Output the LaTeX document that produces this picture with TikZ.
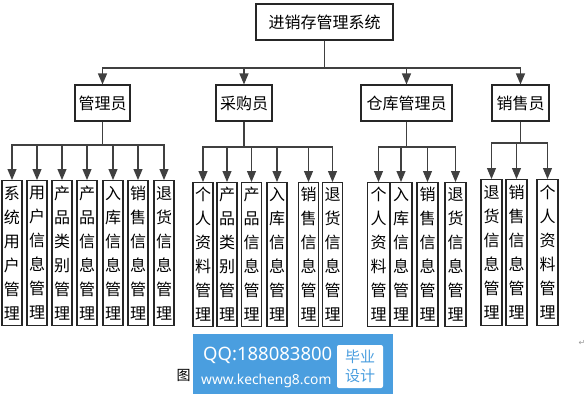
\documentclass[tikz,border=0pt]{standalone}
\usepackage{fontspec}
\newfontfamily\cjk{Noto Sans CJK SC}
\newfontfamily\wmfont{Noto Sans}
\newfontfamily\symfont{DejaVu Sans}
\usetikzlibrary{arrows.meta}
\definecolor{linec}{HTML}{404040}
\definecolor{wmblue}{HTML}{4A9EDF}
\tikzset{
  box/.style={draw=black!85, line width=1.1pt, fill=white, inner sep=0pt, font=\cjk\fontsize{16}{18}\selectfont},
  leaf/.style={draw=black!85, line width=1.1pt, fill=white, inner sep=0pt, minimum width=20pt, anchor=north,
    align=center, font=\cjk\fontsize{16}{24}\selectfont},
  conn/.style={draw=linec, line width=1.2pt, -{Triangle[width=9pt,length=11pt]}},
}
\begin{document}
\begin{tikzpicture}[x=1pt,y=-1pt]
\useasboundingbox (0,0) rectangle (587,400);
% top
\node[box, minimum width=137pt, minimum height=36pt] (top) at (324.5,22) {进销存管理系统};
% level 2
\node[box, minimum width=55pt, minimum height=36pt] (a1) at (102.5,103) {管理员};
\node[box, minimum width=56pt, minimum height=36pt] (a2) at (244,103) {采购员};
\node[box, minimum width=91pt, minimum height=36pt] (a3) at (406.5,103) {仓库管理员};
\node[box, minimum width=57pt, minimum height=36pt] (a4) at (520.5,103) {销售员};
% buses
\coordinate (b0) at (0,68);
\coordinate (b1) at (0,145);
\coordinate (b2) at (0,147);
\coordinate (b3) at (0,147);
\coordinate (b4) at (0,143);
% leaves group 1
\node[leaf, minimum height=145pt] (c11) at (12,180) {系\\统\\用\\户\\管\\理};
\node[leaf, minimum height=145pt] (c12) at (37,180) {用\\户\\信\\息\\管\\理};
\node[leaf, minimum height=145pt] (c13) at (62,180) {产\\品\\类\\别\\管\\理};
\node[leaf, minimum height=145pt] (c14) at (87,180) {产\\品\\信\\息\\管\\理};
\node[leaf, minimum height=145pt] (c15) at (113,180) {入\\库\\信\\息\\管\\理};
\node[leaf, minimum height=145pt] (c16) at (138,180) {销\\售\\信\\息\\管\\理};
\node[leaf, minimum height=145pt] (c17) at (164,180) {退\\货\\信\\息\\管\\理};
% group 2
\node[leaf, minimum height=144pt] (c21) at (203,182) {个\\人\\资\\料\\管\\理};
\node[leaf, minimum height=144pt] (c22) at (227,182) {产\\品\\类\\别\\管\\理};
\node[leaf, minimum height=144pt] (c23) at (251.5,182) {产\\品\\信\\息\\管\\理};
\node[leaf, minimum height=144pt] (c24) at (277,182) {入\\库\\信\\息\\管\\理};
\node[leaf, minimum height=144pt] (c25) at (308.5,182) {销\\售\\信\\息\\管\\理};
\node[leaf, minimum height=144pt] (c26) at (332.5,182) {退\\货\\信\\息\\管\\理};
% group 3
\node[leaf, minimum height=144pt, minimum width=22pt] (c31) at (378.5,182) {个\\人\\资\\料\\管\\理};
\node[leaf, minimum height=144pt, minimum width=22pt] (c32) at (401,182) {入\\库\\信\\息\\管\\理};
\node[leaf, minimum height=144pt, minimum width=21pt] (c33) at (427.5,182) {销\\售\\信\\息\\管\\理};
\node[leaf, minimum height=144pt, minimum width=21pt] (c34) at (455.5,182) {退\\货\\信\\息\\管\\理};
% group 4
\node[leaf, minimum height=146pt, minimum width=21pt] (c41) at (491.5,179) {退\\货\\信\\息\\管\\理};
\node[leaf, minimum height=146pt, minimum width=21pt] (c42) at (516.5,179) {销\\售\\信\\息\\管\\理};
\node[leaf, minimum height=146pt, minimum width=21pt] (c43) at (547.5,179) {个\\人\\资\\料\\管\\理};
% connectors top -> level 2
\foreach \t in {a1,a2,a3,a4}
  \draw[conn] (top.south) -- (top.south |- b0) -| (\t.north);
\foreach \t in {c11,c12,c13,c14,c15,c16,c17}
  \draw[conn] (a1.south) -- (a1.south |- b1) -| (\t.north);
\foreach \t in {c21,c22,c23,c24,c25,c26}
  \draw[conn] (a2.south) -- (a2.south |- b2) -| (\t.north);
\foreach \t in {c31,c32,c33,c34}
  \draw[conn] (a3.south) -- (a3.south |- b3) -| (\t.north);
\foreach \t in {c41,c42,c43}
  \draw[conn] (a4.south) -- (a4.south |- b4) -| (\t.north);
% caption fragment and watermark
\node[inner sep=0pt, font=\cjk\fontsize{14}{14}\selectfont] (fig) at (183.5,375) {图};
\node[fill=wmblue, minimum width=200pt, minimum height=60pt, inner sep=0pt] (wm) at (293,364) {};
\node[inner sep=0pt, text=white, font=\wmfont\fontsize{18.5}{19}\selectfont, anchor=west] (qq) at (203,355) {QQ:188083800};
\node[inner sep=0pt, text=white, font=\wmfont\bfseries\fontsize{13.8}{14}\selectfont, anchor=west] (url) at (201,381) {www.kecheng8.com};
\node[fill=white, rounded corners=2pt, minimum width=46pt, minimum height=43pt, inner sep=0pt, align=center,
  text=wmblue, font=\cjk\fontsize{15}{19}\selectfont] (by) at (360,366.5) {毕业\\设计};
\node[inner sep=0pt, text=black!40, font=\symfont\fontsize{8}{8}\selectfont] (ret) at (582,343) {↵};
\end{tikzpicture}
\end{document}
